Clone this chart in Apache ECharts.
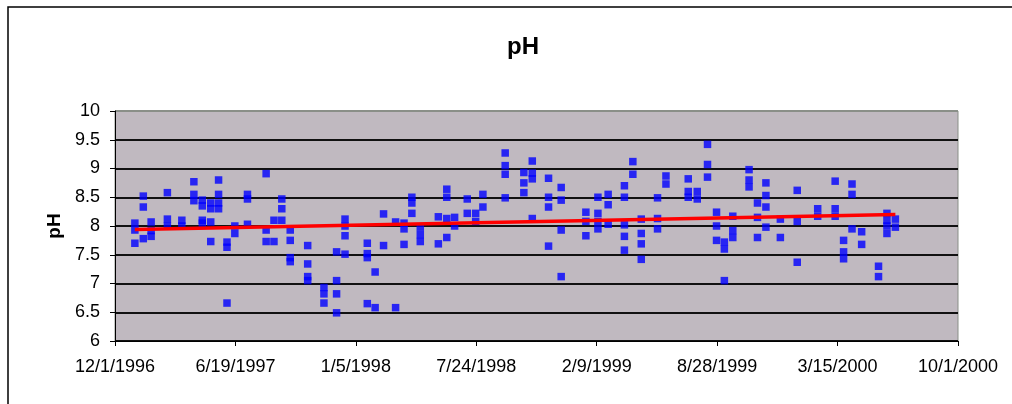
<!DOCTYPE html>
<html><head><meta charset="utf-8">
<script src="https://cdn.jsdelivr.net/npm/echarts@6/dist/echarts.min.js"></script>
<style>html,body{margin:0;padding:0;background:#fff}#c{width:1012px;height:404px}</style>
</head><body><div id="c"></div>
<script>
// Sample dates and the pH values measured on each date
const sampleDates = [
  '1997-01-03','1997-01-17','1997-01-30','1997-02-26','1997-03-22','1997-04-11','1997-04-25','1997-05-09',
  '1997-05-22','1997-06-05','1997-06-18','1997-07-09','1997-08-09','1997-08-22','1997-09-04','1997-09-18',
  '1997-10-17','1997-11-13','1997-12-04','1997-12-18','1998-01-24','1998-02-06','1998-02-20','1998-03-12',
  '1998-03-26','1998-04-08','1998-04-22','1998-05-22','1998-06-05','1998-06-18','1998-07-09','1998-07-23',
  '1998-08-04','1998-09-10','1998-10-11','1998-10-25','1998-11-21','1998-12-12','1999-01-22','1999-02-11',
  '1999-02-28','1999-03-27','1999-04-10','1999-04-24','1999-05-21','1999-06-04','1999-07-11','1999-07-26',
  '1999-08-12','1999-08-27','1999-09-09','1999-09-23','1999-10-20','1999-11-03','1999-11-17','1999-12-11',
  '2000-01-08','2000-02-11','2000-03-11','2000-03-25','2000-04-08','2000-04-24','2000-05-22','2000-06-05',
  '2000-06-19'
];
const phValues = [
  [8.05,7.93,7.70],[8.52,8.33,7.78],[8.07,7.92,7.82],[8.58,8.12,8.00],[8.10,8.00],[8.77,8.55,8.44],
  [8.45,8.35,8.10,8.05],[8.40,8.30,8.07,7.73],[8.80,8.55,8.40,8.30],[7.72,7.63,6.66],[8.00,7.87],
  [8.55,8.47,8.03],[8.91,7.93,7.73],[8.10,7.73],[8.47,8.30,8.10],[7.93,7.75,7.45,7.38],
  [7.66,7.34,7.12,7.05],[6.93,6.82,6.66],[7.55,7.05,6.82,6.49],[8.12,8.00,7.83,7.51],
  [7.70,7.52,7.45,6.65],[7.20,6.58],[8.21,7.66],[8.07,6.58],[8.05,7.95,7.68],[8.50,8.40,8.22],
  [7.98,7.85,7.73],[8.16,7.69],[8.64,8.50,8.13,7.80],[8.15,8.00],[8.47,8.22],[8.22,8.08],
  [8.55,8.33],[9.27,9.05,8.90,8.49],[8.93,8.75,8.58],[9.13,8.92,8.82,8.13],[8.83,8.50,8.33,7.65],
  [8.67,8.45,7.93,7.12],[8.24,8.08,7.83],[8.50,8.22,8.08,7.95],[8.55,8.37,8.03],
  [8.70,8.50,8.02,7.82,7.58],[9.12,8.90],[8.12,7.87,7.69,7.42],[8.49,8.13,7.95],[8.87,8.73],
  [8.82,8.60,8.50],[8.60,8.47],[9.42,9.07,8.85],[8.24,8.00,7.75],[7.72,7.60,7.05],[8.17,7.92,7.80],
  [8.98,8.80,8.68],[8.40,8.15,7.80],[8.75,8.53,8.33,7.98],[8.12,7.80],[8.62,8.08,7.37],[8.30,8.17],
  [8.78,8.30,8.17],[7.75,7.55,7.43],[8.73,8.55,7.95],[7.90,7.68],[7.30,7.12],[8.22,8.10,8.00,7.87],
  [8.12,7.98]
];
// Linear trend line end points
const trendDates = ['1997-01-03','2000-06-19'];
const trendValues = [7.94, 8.20];
// Axis range
const axisStartDate = '1996-12-01';
const axisEndDate = '2000-10-01';
const tickDays = 200;

const DAY = 86400000;
const origin = Date.parse(axisStartDate);
function dayOf(s){ return Math.round((Date.parse(s) - origin) / DAY); }
function fmt(d){ const t = new Date(origin + d * DAY); return (t.getUTCMonth()+1) + '/' + t.getUTCDate() + '/' + t.getUTCFullYear(); }

const points = [];
sampleDates.forEach((d, i) => phValues[i].forEach(v => points.push([dayOf(d), v])));
const trend = trendDates.map((d, i) => [dayOf(d), trendValues[i]]);

const font = 'Liberation Sans, Arial, sans-serif';
const chart = echarts.init(document.getElementById('c'), null, {renderer: 'canvas'});
chart.setOption({
  animation: false,
  backgroundColor: '#fff',
  title: {
    text: 'pH', left: 502, top: 30,
    textStyle: {fontFamily: font, fontSize: 24, fontWeight: 'bold', color: '#000'}
  },
  graphic: [{
    type: 'rect', shape: {x: 8, y: 7, width: 1200, height: 600},
    style: {fill: 'none', stroke: '#000', lineWidth: 1.5}, silent: true
  }],
  grid: {
    left: 115, right: 54, top: 111, bottom: 63,
    show: true, backgroundColor: '#C0B9C0', borderColor: '#8a8f88', borderWidth: 1
  },
  xAxis: {
    type: 'value', min: 0, max: dayOf(axisEndDate), interval: tickDays,
    axisLine: {show: true, lineStyle: {color: '#000', width: 1}},
    axisTick: {show: true, length: 5, lineStyle: {color: '#000'}},
    axisLabel: {formatter: fmt, color: '#000', fontFamily: font, fontSize: 18, margin: 17},
    splitLine: {show: false}
  },
  yAxis: {
    type: 'value', min: 6, max: 10, interval: 0.5,
    name: 'pH', nameLocation: 'middle', nameGap: 48,
    nameTextStyle: {fontFamily: font, fontSize: 19, fontWeight: 'bold', color: '#000'},
    axisLine: {show: true, lineStyle: {color: '#000', width: 1}},
    axisTick: {show: true, length: 5, lineStyle: {color: '#000'}},
    axisLabel: {color: '#000', fontFamily: font, fontSize: 18, margin: 15},
    splitLine: {show: true, lineStyle: {color: ['#111','#111','#111','#111','#111','#111','#111','#111','#8a8f88'], width: 2}}
  },
  series: [{
    type: 'scatter', data: points, symbol: 'rect', symbolSize: 7.5,
    itemStyle: {color: '#0000FF'}, z: 2
  }, {
    type: 'line', data: trend, showSymbol: false, symbol: 'none',
    lineStyle: {color: '#FF0000', width: 3.5}, z: 3
  }]
});
</script></body></html>
